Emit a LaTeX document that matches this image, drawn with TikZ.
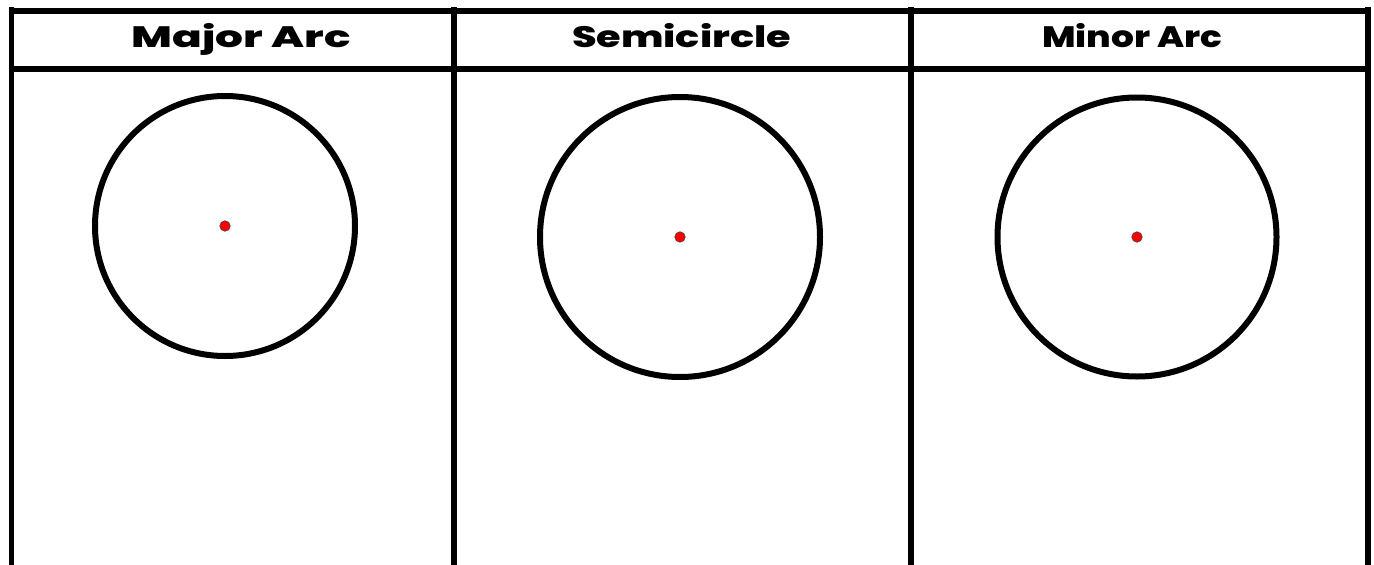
\documentclass[tikz,border=0pt]{standalone}
\usepackage{fontspec}
\usepackage{graphicx}
\setmainfont{Poppins}[UprightFont=* ExtraBold, BoldFont=* ExtraBold]
\newcommand{\hdtext}[2]{\resizebox{#1}{\height}{#2}}
\begin{document}
\begin{tikzpicture}[x=1pt,y=-1pt,
  frame/.style={line width=5.5pt, line cap=butt},
  ring/.style={circle, draw=black, line width=6pt, inner sep=0pt},
  dot/.style={circle, fill=red, draw=black!75, line width=0.6pt, inner sep=0pt, minimum size=10.5pt},
  head/.style={font=\fontsize{29.5}{32}\selectfont, anchor=base, inner sep=0pt}]
\useasboundingbox (0,0) rectangle (1374,565);
\fill[white] (0,0) rectangle (1374,565);
% frame
\coordinate (tl) at (8.7,11);
\coordinate (tr) at (1371,11);
\coordinate (hl) at (8.7,69);
\coordinate (hr) at (1371,69);
\draw[frame] (tl) -- (tr);
\draw[frame] (hl) -- (hr);
\foreach \x/\n in {11.5/a,454/b,911/c,1368/d}{
  \coordinate (v\n t) at (\x,7);
  \coordinate (v\n b) at (\x,565);
  \draw[frame] (v\n t) -- (v\n b);
}
% headers
\node[head] (h1) at (241.3,47) {\hdtext{219pt}{Major Arc}};
\node[head] (h2) at (681.5,47) {\hdtext{219pt}{Semicircle}};
\node[head] (h3) at (1132,47) {\hdtext{180pt}{Minor Arc}};
% circles
\node[ring, minimum size=260pt] (c1) at (225,226) {};
\node[ring, minimum size=280pt] (c2) at (680,237) {};
\node[ring, minimum size=279pt] (c3) at (1137,237) {};
\node[dot] (d1) at (c1.center) {};
\node[dot] (d2) at (c2.center) {};
\node[dot] (d3) at (c3.center) {};
\end{tikzpicture}
\end{document}
